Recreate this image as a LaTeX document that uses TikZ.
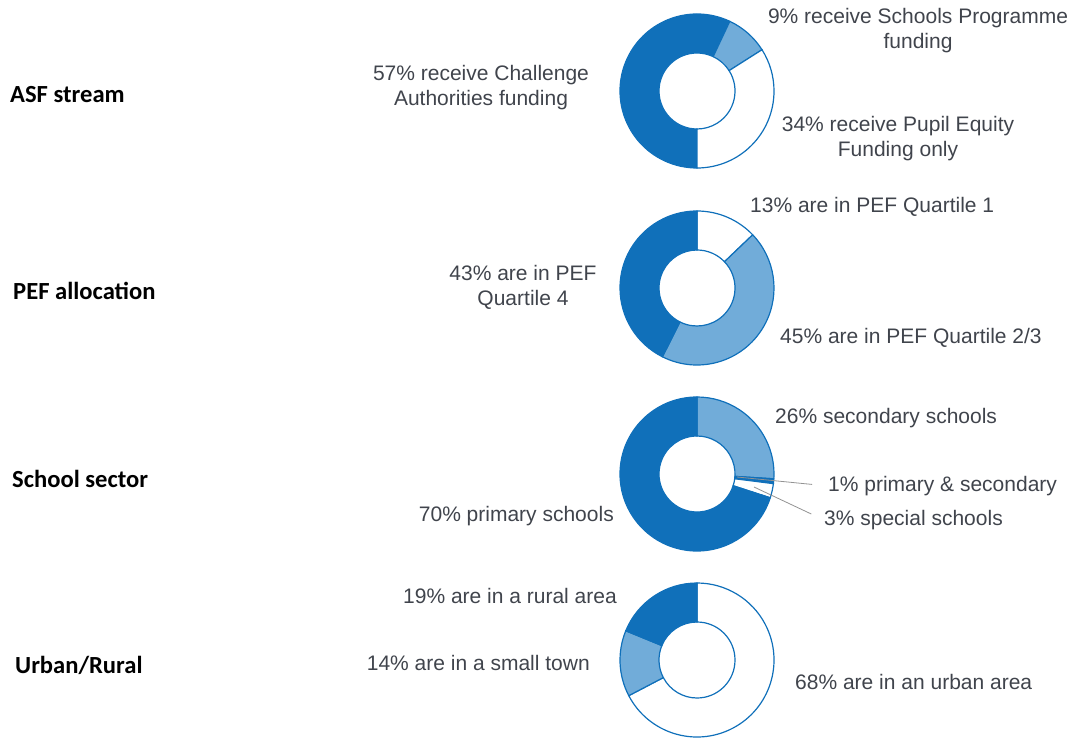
\documentclass[tikz,border=0pt]{standalone}
\usepackage{fontspec}
\setmainfont{Liberation Sans}
\newfontfamily\headfont{Carlito}
\usetikzlibrary{positioning}
\definecolor{darkblue}{RGB}{16,112,186}
\definecolor{lightblue}{RGB}{113,172,217}
\definecolor{labelgrey}{RGB}{64,68,76}
\newcommand{\ringpart}[4]{\filldraw[fill=#4,draw=darkblue,line width=1.2pt] (#1) ++(#2:77) arc[start angle=#2,end angle=#3,radius=77] -- ++(#3:-39) arc[start angle=#3,end angle=#2,radius=38] -- cycle;}

\begin{document}
\begin{tikzpicture}[x=1pt,y=1pt,
  lab/.style={inner sep=0pt,text=labelgrey,align=center,font=\fontsize{21}{24.5}\selectfont},
  head/.style={inner sep=0pt,anchor=west,font=\headfont\bfseries\fontsize{24.6}{29}\selectfont},
  leader/.style={draw=gray!85,line width=0.8pt}]
\useasboundingbox (0,0) rectangle (1073,740);
\coordinate (asf) at (697,649);
\coordinate (pef) at (697,452);
\coordinate (sec) at (697,266);
\coordinate (area) at (697,80);
\ringpart{asf}{64.8}{270}{darkblue}
\ringpart{asf}{32.4}{64.8}{lightblue}
\ringpart{asf}{-90}{32.4}{white}
\ringpart{pef}{43.7}{90}{white}
\ringpart{pef}{-116.7}{43.7}{lightblue}
\ringpart{pef}{90}{243.3}{darkblue}
\ringpart{sec}{-3.6}{90}{lightblue}
\ringpart{sec}{-7.2}{-3.6}{darkblue}
\ringpart{sec}{-18}{-7.2}{white}
\ringpart{sec}{90}{342}{darkblue}
\ringpart{area}{-152.4}{90}{white}
\ringpart{area}{157.7}{207.6}{lightblue}
\ringpart{area}{90}{157.7}{darkblue}
\node[head] (asfhead) at (10,645) {ASF stream};
\node[head] (pefhead) at (13,449) {PEF allocation};
\node[head] (sechead) at (12,261) {School sector};
\node[head] (areahead) at (15,75) {Urban/Rural};
\node[lab] (asf9) at (918,709.5) {9\% receive Schools Programme\\funding};
\node[lab] (asf34) at (898,601.5) {34\% receive Pupil Equity\\Funding only};
\node[lab] (asf57) at (481,652.5) {57\% receive Challenge\\Authorities funding};
\node[lab,anchor=west] (pef13) at (750,533) {13\% are in PEF Quartile 1};
\node[lab] (pef43) at (523,452.5) {43\% are in PEF\\Quartile 4};
\node[lab,anchor=west] (pef45) at (780,402) {45\% are in PEF Quartile 2/3};
\node[lab,anchor=west] (sec26) at (775,322) {26\% secondary schools};
\node[lab,anchor=west] (sec1) at (828,254) {1\% primary \& secondary};
\node[lab,anchor=west] (sec3) at (824,220) {3\% special schools};
\node[lab,anchor=east] (sec70) at (614,224) {70\% primary schools};
\node[lab,anchor=east] (area19) at (617,144.5) {19\% are in a rural area};
\node[lab,anchor=east] (area14) at (590,77.5) {14\% are in a small town};
\node[lab,anchor=west] (area68) at (795,58.5) {68\% are in an urban area};
\coordinate (sec1pt) at (737,263);
\coordinate (sec3pt) at (754,253);
\draw[leader,shorten >=16pt] (sec1pt) -- (sec1.west);
\draw[leader,shorten >=14pt] (sec3pt) -- (sec3.west);
\end{tikzpicture}
\end{document}
